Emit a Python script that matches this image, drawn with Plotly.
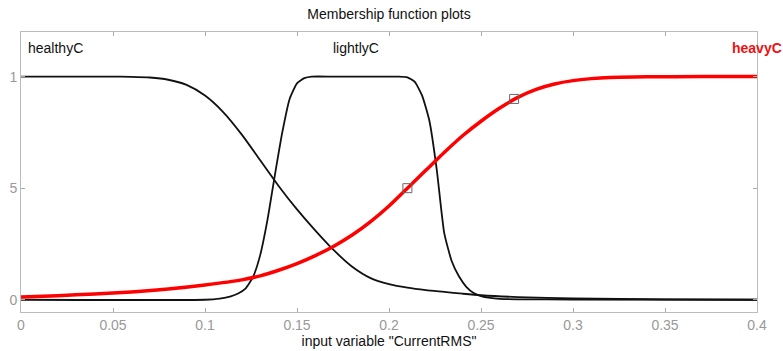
import plotly.graph_objects as go

# Membership functions
healthy_x = [0, 0.05, 0.06, 0.07, 0.08, 0.09, 0.10, 0.11, 0.12, 0.13, 0.14, 0.15, 0.16, 0.17, 0.18, 0.19, 0.20, 0.21, 0.22, 0.23, 0.24, 0.25, 0.27, 0.30, 0.35, 0.40]
healthy_y = [1, 1, 0.999, 0.996, 0.986, 0.963, 0.915, 0.84, 0.74, 0.625, 0.51, 0.405, 0.31, 0.222, 0.148, 0.097, 0.07, 0.054, 0.043, 0.035, 0.027, 0.02, 0.012, 0.006, 0.002, 0.0]

lightly_x = [0, 0.10, 0.108, 0.114, 0.118, 0.122, 0.126, 0.13, 0.134, 0.138, 0.142, 0.146, 0.15, 0.154, 0.158, 0.17, 0.19, 0.205, 0.21, 0.214, 0.218, 0.222, 0.226, 0.23, 0.234, 0.238, 0.242, 0.246, 0.25, 0.255, 0.26, 0.27, 0.30, 0.40]
lightly_y = [0, 0, 0.005, 0.015, 0.028, 0.05, 0.1, 0.2, 0.36, 0.56, 0.75, 0.9, 0.97, 0.993, 1, 1, 1, 1, 0.997, 0.976, 0.915, 0.8, 0.58, 0.3, 0.175, 0.105, 0.058, 0.03, 0.016, 0.008, 0.004, 0.002, 0.001, 0]

heavy_x = [0, 0.02, 0.04, 0.06, 0.08, 0.10, 0.12, 0.13, 0.14, 0.15, 0.16, 0.17, 0.18, 0.19, 0.20, 0.21, 0.22, 0.23, 0.24, 0.25, 0.26, 0.27, 0.28, 0.29, 0.30, 0.31, 0.32, 0.34, 0.37, 0.40]
heavy_y = [0.012, 0.018, 0.026, 0.035, 0.048, 0.066, 0.089, 0.107, 0.132, 0.162, 0.198, 0.24, 0.29, 0.35, 0.42, 0.5, 0.58, 0.66, 0.735, 0.8, 0.858, 0.907, 0.943, 0.967, 0.982, 0.991, 0.996, 0.999, 1, 1]

marker_x = [0.21, 0.268]
marker_y = [0.5, 0.9]

x_ticks = [0, 0.05, 0.1, 0.15, 0.2, 0.25, 0.3, 0.35, 0.4]
x_tick_text = ["0", "0.05", "0.1", "0.15", "0.2", "0.25", "0.3", "0.35", "0.4"]
y_ticks = [0, 0.5, 1]
y_tick_text = ["0", "5", "1"]

FONT = "Liberation Sans, Arial, sans-serif"

fig = go.Figure()
fig.add_trace(go.Scatter(x=healthy_x, y=healthy_y, mode="lines",
                         line=dict(color="#111111", width=1.8, shape="spline", smoothing=0.7),
                         showlegend=False, hoverinfo="skip"))
fig.add_trace(go.Scatter(x=lightly_x, y=lightly_y, mode="lines",
                         line=dict(color="#111111", width=1.8, shape="spline", smoothing=0.5),
                         showlegend=False, hoverinfo="skip"))
fig.add_trace(go.Scatter(x=heavy_x, y=heavy_y, mode="lines",
                         line=dict(color="#ff0000", width=3.5, shape="spline", smoothing=0.7),
                         showlegend=False, hoverinfo="skip"))
fig.add_trace(go.Scatter(x=marker_x, y=marker_y, mode="markers",
                         marker=dict(symbol="square-open", size=9, color="#666666", line=dict(width=1)),
                         showlegend=False, hoverinfo="skip"))

fig.add_annotation(x=0.0, y=1.13, xref="x", yref="y", text="healthyC", showarrow=False,
                   xanchor="left", xshift=5, font=dict(family=FONT, size=14, color="#111111"))
fig.add_annotation(x=0.182, y=1.13, xref="x", yref="y", text="lightlyC", showarrow=False,
                   xanchor="center", font=dict(family=FONT, size=14, color="#111111"))
fig.add_annotation(x=1.0, y=1.13, xref="paper", yref="y", text="<b>heavyC</b>", showarrow=False,
                   xanchor="right", xshift=27, font=dict(family=FONT, size=14, color="#ee1111"))

fig.update_layout(
    width=783, height=351,
    margin=dict(l=21, r=26, t=32, b=39, autoexpand=False),
    paper_bgcolor="white", plot_bgcolor="white",
    title=dict(text="Membership function plots", x=0.5, xref="paper", xanchor="center",
               y=1 - 14 / 351, yref="container", yanchor="middle",
               font=dict(family=FONT, size=14, color="#111111")),
    xaxis=dict(range=[0, 0.4], tickvals=x_ticks, ticktext=x_tick_text, automargin=False,
               ticks="inside", ticklen=4, tickcolor="#aaaaaa", mirror="ticks",
               showline=True, linecolor="#bbbbbb", linewidth=1, showgrid=False, zeroline=False,
               tickfont=dict(family=FONT, size=14, color="#999999"),
               title=dict(text='input variable "CurrentRMS"', standoff=0,
                          font=dict(family=FONT, size=14, color="#111111"))),
    yaxis=dict(range=[-0.055, 1.2], tickvals=y_ticks, ticktext=y_tick_text, automargin=False,
               ticks="inside", ticklen=4, tickcolor="#aaaaaa", mirror="ticks",
               showline=True, linecolor="#bbbbbb", linewidth=1, showgrid=False, zeroline=False,
               tickfont=dict(family=FONT, size=14, color="#999999")),
)

fig.write_html("out.html")
